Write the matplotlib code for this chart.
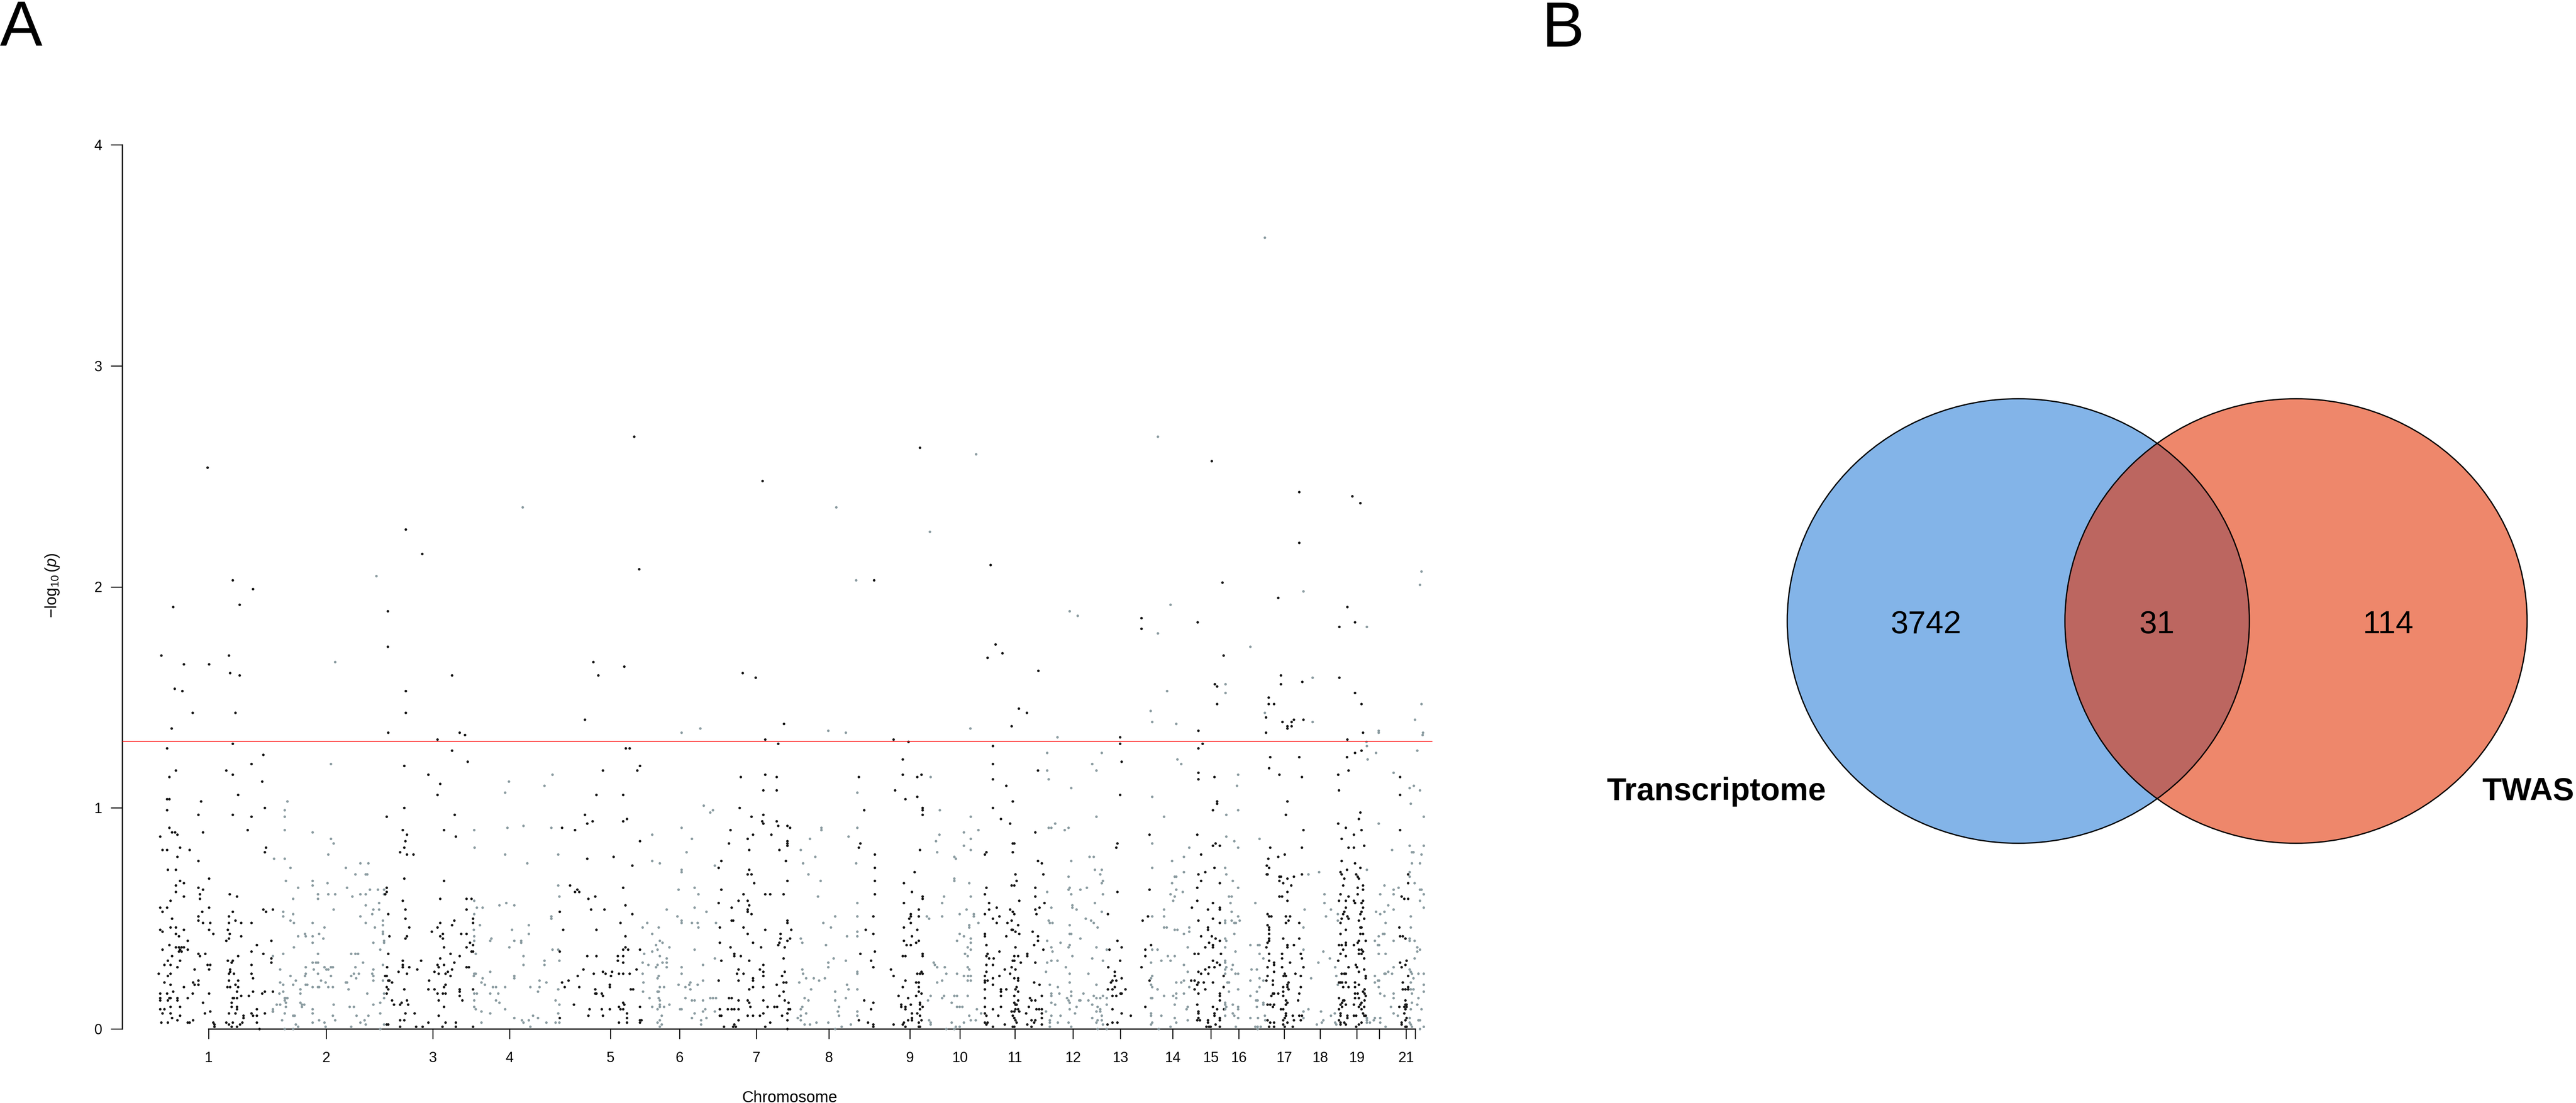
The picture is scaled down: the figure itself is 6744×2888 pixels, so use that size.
import numpy as np
import matplotlib
matplotlib.use('Agg')
import matplotlib.pyplot as plt
from matplotlib.patches import Ellipse

plt.rcParams['font.family'] = ['Liberation Sans', 'DejaVu Sans']
plt.rcParams['mathtext.fontset'] = 'custom'
plt.rcParams['mathtext.rm'] = 'Liberation Sans'
plt.rcParams['mathtext.it'] = 'Liberation Sans:italic'

# Manhattan data: (cumulative genome position, -log10 p), one list per chromosome
chr1 = [(135,2.54),(201,2.03),(254,1.99),(45,1.91),(219,1.92),(14,1.69),(73,1.65),(139,1.65),(191,1.69),(194,1.61),(219,1.60),(49,1.54),(69,1.53),(96,1.43),(208,1.43),(41,1.36),(201,1.29),
        (29,1.27),(281,1.24),(250,1.20),(184,1.17),(201,1.15),(52,1.17),(35,1.14),(278,1.12),(215,1.06),(29,1.04),(35,1.04),(118,1.03),(29,0.99),(111,0.97),(201,0.97),(250,0.96),(285,1.00),
        (35,0.91),(42,0.89),(50,0.89),(56,0.88),(123,0.89),(240,0.90),(11,0.87),(17,0.81),(29,0.81),(63,0.82),(88,0.81),(288,0.82),(285,0.80),(56,0.78),(111,0.76),(31,0.72),(52,0.72),
        (139,0.68),(63,0.67),(73,0.66),(52,0.65),(52,0.62),(111,0.64),(123,0.63),(115,0.61),(73,0.60),(115,0.59),(193,0.61),(212,0.60),(38,0.58),(11,0.55),(29,0.55),(17,0.53),(139,0.55),
        (281,0.54),(288,0.53),(306,0.54),(121,0.53),(111,0.51),(201,0.53),(191,0.51),(42,0.50),(111,0.49),(123,0.48),(142,0.48),(191,0.48),(208,0.49),(223,0.48),(250,0.48),(38,0.46),
        (52,0.46),(11,0.45),(17,0.44),(52,0.43),(60,0.42),(73,0.45),(139,0.45),(150,0.43),(188,0.45),(193,0.43),(223,0.42),(83,0.40),(184,0.40),(191,0.41),(302,0.40),(35,0.38),(52,0.37),
        (60,0.37),(63,0.36),(67,0.37),(73,0.37),(83,0.36),(60,0.35),(67,0.35),(17,0.36),(264,0.38),(111,0.34),(115,0.33),(129,0.34),(250,0.35),(281,0.34),(302,0.32),(31,0.31),(42,0.33),
        (63,0.31),(188,0.31),(201,0.31),(215,0.33),(22,0.29),(38,0.29),(56,0.28),(135,0.29),(142,0.29),(198,0.30),(250,0.29),(302,0.30),(101,0.27),(139,0.27),(194,0.27),(194,0.26),(7,0.25),
        (31,0.24),(38,0.25),(191,0.25),(204,0.25),(250,0.25),(254,0.23),(22,0.21),(38,0.20),(73,0.19),(97,0.21),(101,0.20),(111,0.22),(111,0.20),(191,0.22),(215,0.22),(187,0.19),(194,0.19),
        (208,0.20),(215,0.19),(11,0.16),(29,0.16),(45,0.17),(11,0.14),(11,0.13),(31,0.13),(35,0.14),(38,0.14),(56,0.14),(56,0.13),(83,0.14),(96,0.16),(123,0.12),(139,0.16),(201,0.14),
        (204,0.14),(212,0.14),(212,0.17),(223,0.15),(243,0.15),(254,0.17),(278,0.16),(285,0.17),(306,0.17),(11,0.09),(22,0.09),(38,0.10),(38,0.07),(17,0.07),(63,0.10),(198,0.12),(198,0.10),
        (212,0.10),(212,0.09),(42,0.05),(56,0.04),(63,0.06),(97,0.04),(128,0.07),(142,0.08),(191,0.07),(208,0.07),(229,0.06),(229,0.05),(250,0.07),(254,0.06),(264,0.09),(264,0.06),(285,0.07),
        (306,0.08),(14,0.03),(31,0.03),(83,0.03),(88,0.03),(150,0.03),(153,0.02),(153,0.01),(184,0.03),(191,0.02),(201,0.03),(198,0.01),(212,0.01),(220,0.02),(226,0.03),(264,0.03),(271,0.00)]
chr2 = [(469,1.66),(577,2.05),(458,1.20),(344,1.03),(337,0.99),(337,0.96),(337,0.90),(337,0.77),(337,0.07),(337,0.14),(337,0.13),(337,0.00),(410,0.89),(458,0.86),(465,0.84),(451,0.79),
        (309,0.77),(352,0.73),(535,0.75),(556,0.75),(497,0.73),(522,0.70),(549,0.70),(553,0.70),(340,0.67),(410,0.67),(410,0.65),(449,0.66),(372,0.64),(359,0.59),(424,0.61),(424,0.59),
        (451,0.61),(469,0.61),(500,0.64),(514,0.60),(535,0.61),(549,0.61),(560,0.63),(581,0.63),(597,0.63),(597,0.61),(549,0.56),(569,0.54),(566,0.52),(584,0.57),(584,0.54),(333,0.53),
        (333,0.51),(359,0.52),(465,0.54),(535,0.51),(352,0.49),(361,0.48),(410,0.48),(549,0.48),(573,0.46),(594,0.49),(594,0.47),(441,0.46),(372,0.42),(390,0.43),(392,0.42),(410,0.42),
        (410,0.39),(427,0.43),(438,0.41),(361,0.37),(594,0.44),(594,0.43),(597,0.40),(597,0.39),(569,0.39),(333,0.34),(306,0.33),(424,0.34),(511,0.34),(522,0.34),(529,0.34),(587,0.36),
        (410,0.30),(419,0.30),(424,0.30),(325,0.27),(392,0.28),(413,0.27),(441,0.28),(446,0.27),(451,0.27),(458,0.28),(463,0.28),(542,0.30),(522,0.28),(569,0.27),(594,0.29),(352,0.24),
        (390,0.24),(392,0.25),(424,0.25),(458,0.24),(511,0.24),(518,0.25),(531,0.25),(524,0.23),(566,0.25),(569,0.24),(325,0.21),(333,0.20),(359,0.20),(366,0.22),(392,0.20),(396,0.20),
        (410,0.19),(424,0.19),(427,0.19),(432,0.22),(444,0.21),(451,0.19),(463,0.19),(497,0.21),(500,0.21),(504,0.18),(569,0.22),(594,0.22),(323,0.16),(333,0.17),(378,0.18),(378,0.16),
        (340,0.14),(340,0.12),(344,0.14),(553,0.16),(597,0.16),(597,0.14),(316,0.11),(325,0.11),(340,0.10),(378,0.12),(382,0.11),(382,0.10),(388,0.11),(410,0.09),(410,0.07),(465,0.11),
        (507,0.10),(518,0.10),(569,0.11),(587,0.12),(306,0.09),(306,0.08),(359,0.06),(363,0.06),(463,0.06),(525,0.06),(556,0.06),(587,0.07),(330,0.04),(410,0.03),(427,0.04),(441,0.03),
        (469,0.04),(535,0.03),(546,0.04),(359,0.00),(366,0.02),(372,0.01),(444,0.01),(511,0.01),(549,0.02),(597,0.02),(587,0.00)]
chr3 = [(654,2.26),(697,2.15),(607,1.89),(607,1.73),(654,1.53),(654,1.43),(775,1.60),(809,1.33),(608,1.34),(737,1.31),(795,1.34),(775,1.26),(816,1.21),(650,1.19),(713,1.15),(744,1.11),
        (737,1.06),(650,1.00),(604,0.96),(782,0.97),(646,0.90),(657,0.88),(653,0.85),(650,0.82),(639,0.80),(657,0.79),(674,0.79),(754,0.90),(785,0.87),(650,0.68),(754,0.67),(604,0.64),
        (604,0.62),(600,0.61),(646,0.58),(744,0.59),(653,0.54),(608,0.52),(653,0.50),(781,0.49),(744,0.48),(737,0.46),(775,0.47),(663,0.46),(722,0.44),(744,0.42),(751,0.43),(751,0.41),
        (611,0.42),(653,0.41),(657,0.42),(799,0.43),(754,0.37),(771,0.34),(608,0.34),(694,0.31),(646,0.31),(646,0.29),(646,0.28),(663,0.28),(744,0.32),(737,0.29),(740,0.28),(754,0.29),
        (781,0.30),(605,0.28),(684,0.27),(635,0.26),(657,0.25),(729,0.26),(740,0.25),(758,0.25),(764,0.26),(771,0.24),(775,0.27),(600,0.24),(604,0.24),(608,0.22),(611,0.22),(618,0.21),
        (715,0.22),(754,0.19),(758,0.20),(604,0.19),(604,0.16),(608,0.18),(650,0.18),(713,0.18),(729,0.18),(737,0.16),(751,0.16),(758,0.16),(795,0.17),(795,0.15),(618,0.13),(623,0.11),
        (639,0.11),(643,0.12),(657,0.13),(660,0.11),(740,0.13),(802,0.13),(754,0.10),(653,0.07),(677,0.07),(740,0.06),(639,0.04),(650,0.04),(713,0.03),(604,0.02),(608,0.02),(639,0.01),
        (681,0.01),(698,0.01),(750,0.01),(758,0.03),(785,0.03),(785,0.01),(813,0.59),(813,0.54),(813,0.43),(813,0.37),(813,0.28),(826,0.59),(826,0.35),(830,0.50),(830,0.48),(830,0.38),
        (830,0.35),(830,0.18),(830,0.01),(822,0.39),(819,0.28),(795,0.33),(795,0.18)]
chr4 = [(960,2.36),(924,1.12),(914,1.07),(1017,1.10),(1038,1.15),(833,0.90),(920,0.91),(962,0.92),(1035,0.91),(834,0.82),(914,0.79),(1053,0.79),(972,0.75),(1053,0.65),(1056,0.60),
        (833,0.58),(840,0.55),(855,0.55),(899,0.56),(917,0.57),(938,0.56),(833,0.52),(1035,0.51),(1035,0.50),(848,0.47),(932,0.45),(976,0.47),(976,0.43),(832,0.45),(833,0.42),(833,0.40),
        (878,0.41),(875,0.40),(938,0.40),(956,0.40),(956,0.39),(925,0.37),(1038,0.36),(1053,0.36),(837,0.34),(962,0.33),(962,0.29),(1017,0.31),(1017,0.29),(1056,0.31),(875,0.26),(833,0.25),
        (837,0.25),(832,0.24),(938,0.24),(938,0.23),(855,0.23),(852,0.21),(861,0.20),(882,0.19),(890,0.19),(914,0.19),(980,0.19),(1004,0.19),(1004,0.22),(1022,0.21),(1000,0.17),(1053,0.18),
        (833,0.16),(840,0.16),(875,0.16),(896,0.16),(833,0.13),(890,0.13),(899,0.12),(1046,0.13),(1056,0.11),(833,0.10),(837,0.09),(852,0.08),(875,0.07),(914,0.09),(1053,0.07),(938,0.05),
        (958,0.04),(962,0.03),(976,0.04),(987,0.06),(1000,0.05),(852,0.03),(980,0.01),(1022,0.03),(1046,0.03),(1056,0.03)]
chr5 = [(1252,2.68),(1265,2.08),(1145,1.66),(1158,1.60),(1226,1.64),(1123,1.40),(1230,1.27),(1240,1.27),(1170,1.17),(1260,1.17),(1267,1.19),(1153,1.06),(1223,1.06),(1123,0.97),(1129,0.93),
        (1143,0.94),(1223,0.94),(1233,0.95),(1063,0.91),(1097,0.90),(1267,0.85),(1129,0.77),(1198,0.78),(1247,0.74),(1223,0.64),(1084,0.65),(1097,0.62),(1103,0.63),(1108,0.62),(1132,0.59),
        (1150,0.60),(1139,0.54),(1174,0.54),(1229,0.56),(1247,0.52),(1057,0.53),(1216,0.48),(1066,0.45),(1153,0.45),(1229,0.42),(1223,0.36),(1229,0.37),(1236,0.36),(1267,0.36),(1057,0.35),
        (1129,0.33),(1153,0.33),(1209,0.33),(1209,0.31),(1223,0.33),(1223,0.30),(1119,0.27),(1146,0.25),(1170,0.26),(1177,0.25),(1194,0.26),(1191,0.24),(1212,0.25),(1223,0.25),(1240,0.25),
        (1258,0.27),(1080,0.22),(1104,0.24),(1063,0.21),(1070,0.19),(1108,0.19),(1188,0.20),(1188,0.19),(1150,0.18),(1150,0.16),(1153,0.16),(1167,0.16),(1170,0.15),(1243,0.18),(1249,0.18),
        (1094,0.11),(1223,0.12),(1226,0.11),(1135,0.09),(1167,0.09),(1188,0.09),(1212,0.10),(1216,0.09),(1223,0.09),(1233,0.07),(1267,0.10),(1057,0.05),(1132,0.06),(1170,0.06),(1233,0.05),
        (1267,0.04),(1267,0.03),(1271,0.04),(1212,0.03),(1233,0.03)]
chr6 = [(1376,1.34),(1425,1.36),(1434,1.01),(1451,0.98),(1458,0.99),(1299,0.88),(1376,0.91),(1403,0.86),(1389,0.80),(1299,0.76),(1319,0.75),(1376,0.72),(1376,0.71),(1463,0.74),(1368,0.63),
        (1410,0.64),(1420,0.61),(1410,0.55),(1337,0.54),(1441,0.53),(1365,0.51),(1376,0.49),(1376,0.48),(1286,0.48),(1274,0.46),(1403,0.48),(1418,0.48),(1316,0.46),(1420,0.46),(1466,0.48),
        (1299,0.43),(1319,0.40),(1326,0.39),(1309,0.38),(1344,0.37),(1313,0.36),(1299,0.35),(1410,0.36),(1278,0.34),(1319,0.33),(1337,0.32),(1463,0.32),(1274,0.30),(1289,0.29),(1309,0.28),
        (1313,0.29),(1326,0.30),(1337,0.30),(1337,0.28),(1376,0.28),(1432,0.29),(1376,0.25),(1274,0.25),(1316,0.24),(1313,0.23),(1432,0.22),(1399,0.21),(1418,0.20),(1396,0.20),(1368,0.20),
        (1386,0.19),(1399,0.18),(1276,0.21),(1319,0.19),(1330,0.19),(1275,0.17),(1313,0.17),(1316,0.17),(1292,0.14),(1316,0.14),(1319,0.13),(1386,0.14),(1403,0.13),(1410,0.13),(1432,0.13),
        (1451,0.14),(1458,0.14),(1466,0.14),(1344,0.11),(1330,0.10),(1299,0.10),(1313,0.09),(1319,0.10),(1319,0.11),(1372,0.09),(1376,0.09),(1410,0.07),(1432,0.08),(1438,0.09),(1463,0.08),
        (1324,0.06),(1403,0.05),(1427,0.04),(1441,0.05),(1319,0.04),(1319,0.01),(1313,0.03),(1324,0.02),(1427,0.02)]
chr7 = [(1588,2.48),(1536,1.61),(1570,1.59),(1644,1.38),(1595,1.31),(1629,1.29),(1531,1.14),(1595,1.15),(1625,1.14),(1625,1.08),(1590,1.08),(1528,1.00),(1559,0.96),(1590,0.97),(1587,0.94),
        (1590,0.93),(1625,0.94),(1629,0.92),(1653,0.92),(1660,0.91),(1504,0.90),(1563,0.88),(1549,0.86),(1611,0.88),(1500,0.84),(1653,0.85),(1653,0.84),(1653,0.83),(1553,0.81),(1632,0.81),
        (1480,0.76),(1473,0.73),(1649,0.76),(1553,0.72),(1549,0.70),(1559,0.70),(1653,0.67),(1566,0.66),(1480,0.63),(1538,0.61),(1595,0.61),(1608,0.61),(1643,0.61),(1473,0.57),(1525,0.58),
        (1549,0.58),(1553,0.56),(1507,0.55),(1549,0.54),(1549,0.53),(1559,0.52),(1507,0.49),(1511,0.49),(1653,0.49),(1653,0.48),(1476,0.46),(1538,0.46),(1595,0.45),(1663,0.45),(1549,0.43),
        (1635,0.43),(1635,0.41),(1653,0.40),(1660,0.41),(1476,0.39),(1563,0.39),(1629,0.38),(1632,0.39),(1646,0.37),(1504,0.37),(1584,0.37),(1514,0.34),(1514,0.33),(1531,0.33),(1480,0.31),
        (1553,0.31),(1643,0.32),(1590,0.29),(1525,0.27),(1521,0.25),(1538,0.25),(1581,0.27),(1590,0.26),(1590,0.24),(1646,0.26),(1639,0.24),(1643,0.21),(1650,0.21),(1473,0.22),(1525,0.22),
        (1563,0.23),(1563,0.22),(1563,0.19),(1590,0.19),(1625,0.20),(1553,0.18),(1643,0.17),(1632,0.15),(1500,0.14),(1507,0.14),(1525,0.13),(1549,0.13),(1553,0.12),(1590,0.13),(1646,0.13),
        (1656,0.12),(1476,0.09),(1497,0.09),(1507,0.09),(1514,0.09),(1525,0.09),(1556,0.10),(1601,0.10),(1619,0.10),(1626,0.10),(1656,0.09),(1660,0.09),(1476,0.06),(1480,0.06),(1525,0.04),
        (1549,0.06),(1563,0.06),(1581,0.06),(1590,0.07),(1639,0.06),(1653,0.07),(1487,0.01),(1511,0.01),(1514,0.02),(1518,0.01),(1595,0.01),(1608,0.03),(1653,0.04),(1653,0.00)]
chr8 = [(1781,2.36),(1833,2.03),(1760,1.35),(1806,1.34),(1742,0.91),(1742,0.90),(1712,0.86),(1688,0.81),(1726,0.78),(1694,0.75),(1708,0.70),(1740,0.67),(1733,0.60),(1813,0.87),(1836,0.91),
        (1836,1.07),(1836,0.57),(1836,0.51),(1836,0.44),(1836,0.42),(1836,0.26),(1836,0.25),(1836,0.18),(1836,0.08),(1836,0.06),(1833,0.75),(1778,0.51),(1747,0.48),(1767,0.46),(1688,0.41),
        (1692,0.39),(1754,0.38),(1809,0.42),(1774,0.32),(1760,0.30),(1760,0.28),(1806,0.31),(1692,0.27),(1694,0.25),(1702,0.23),(1722,0.23),(1736,0.22),(1751,0.23),(1684,0.21),(1715,0.18),
        (1778,0.17),(1813,0.18),(1809,0.20),(1698,0.14),(1708,0.13),(1778,0.13),(1806,0.14),(1692,0.10),(1688,0.09),(1788,0.10),(1785,0.08),(1702,0.07),(1688,0.06),(1688,0.04),(1680,0.05),
        (1788,0.06),(1698,0.02),(1712,0.02),(1729,0.03),(1760,0.03),(1778,0.00),(1795,0.01),(1819,0.02)]
chr9 = [(2000,2.63),(1880,2.03),(1970,1.30),(1840,1.14),(1854,0.99),(1840,0.82),(1844,0.84),(1882,0.79),(1882,0.73),(1882,0.67),(1882,0.61),(1882,0.35),(1878,0.51),(1878,0.43),(1878,0.28),
        (1878,0.12),(1878,0.02),(1878,0.01),(1858,0.45),(1844,0.34),(1872,0.31),(1872,0.09),(1840,0.04),(1854,0.13),(1864,0.03),(1931,1.31),(1935,1.08),(1955,1.22),(1955,1.15),(1993,1.14),
        (2004,1.15),(1962,1.04),(1993,1.05),(2007,1.00),(2007,0.99),(2007,0.97),(2000,0.81),(1986,0.71),(1958,0.66),(1979,0.62),(2007,0.60),(2007,0.59),(1958,0.57),(1997,0.54),(1976,0.52),
        (1976,0.51),(1972,0.50),(1997,0.51),(1976,0.48),(1958,0.46),(1993,0.45),(1979,0.42),(1997,0.40),(1990,0.39),(1958,0.40),(1965,0.38),(1976,0.38),(1955,0.33),(1962,0.33),(2007,0.34),
        (2007,0.33),(1924,0.27),(1931,0.24),(1993,0.25),(2000,0.25),(2007,0.25),(2004,0.26),(1962,0.22),(1990,0.21),(1997,0.21),(1997,0.19),(1955,0.19),(1997,0.17),(2004,0.16),(1990,0.15),
        (1944,0.15),(1969,0.14),(1976,0.11),(2000,0.12),(2000,0.11),(2000,0.09),(2007,0.10),(1951,0.11),(1951,0.10),(1962,0.10),(1962,0.09),(1979,0.07),(1993,0.07),(2000,0.06),(1969,0.04),
        (1979,0.04),(1979,0.05),(1997,0.03),(2004,0.04),(1931,0.02),(1955,0.02),(1958,0.03),(1962,0.01),(1997,0.01),(2000,0.01)]
chr10 = [(2026,2.25),(2147,2.60),(2132,1.36),(2028,1.14),(2052,0.99),(2051,0.88),(2042,0.85),(2045,0.80),(2090,0.78),(2094,0.77),(2133,0.96),(2115,0.89),(2133,0.86),(2153,0.90),(2115,0.83),
         (2133,0.81),(2090,0.68),(2090,0.67),(2129,0.66),(2063,0.60),(2133,0.60),(2058,0.57),(2122,0.54),(2104,0.52),(2141,0.52),(2141,0.51),(2058,0.51),(2018,0.51),(2024,0.50),(2153,0.48),
         (2129,0.47),(2129,0.46),(2104,0.43),(2115,0.42),(2133,0.41),(2097,0.40),(2133,0.39),(2125,0.37),(2133,0.36),(2118,0.34),(2125,0.33),(2036,0.30),(2039,0.29),(2045,0.28),(2065,0.28),
         (2125,0.28),(2129,0.27),(2069,0.25),(2097,0.25),(2115,0.24),(2126,0.24),(2133,0.24),(2133,0.22),(2125,0.22),(2045,0.21),(2058,0.22),(2028,0.15),(2021,0.13),(2058,0.14),(2063,0.15),
         (2090,0.15),(2097,0.15),(2125,0.15),(2083,0.12),(2097,0.10),(2104,0.10),(2111,0.10),(2149,0.09),(2129,0.06),(2133,0.04),(2146,0.04),(2160,0.07),(2024,0.04),(2028,0.03),(2028,0.02),
         (2083,0.03),(2094,0.01),(2104,0.01),(2115,0.03),(2069,0.00),(2090,0.00)]
chr11 = [(2185,2.10),(2198,1.74),(2177,1.68),(2216,1.70),(2259,1.45),(2280,1.43),(2310,1.62),(2240,1.37),(2191,1.28),(2191,1.20),(2191,1.13),(2191,1.00),(2226,1.10),(2243,1.03),(2212,0.95),
         (2236,0.93),(2170,0.79),(2170,0.61),(2174,0.80),(2174,0.64),(2243,0.84),(2243,0.80),(2247,0.84),(2250,0.70),(2253,0.67),(2240,0.65),(2247,0.65),(2260,0.58),(2181,0.57),(2181,0.54),
         (2201,0.55),(2170,0.52),(2236,0.54),(2243,0.53),(2247,0.52),(2191,0.50),(2208,0.51),(2201,0.48),(2229,0.48),(2240,0.49),(2257,0.47),(2170,0.43),(2170,0.42),(2240,0.45),(2243,0.45),
         (2250,0.44),(2260,0.43),(2226,0.42),(2174,0.38),(2250,0.37),(2208,0.35),(2177,0.34),(2174,0.33),(2181,0.32),(2193,0.32),(2247,0.33),(2247,0.31),(2257,0.33),(2243,0.31),(2264,0.30),
         (2174,0.29),(2191,0.29),(2240,0.28),(2250,0.27),(2222,0.27),(2236,0.25),(2174,0.26),(2170,0.24),(2177,0.22),(2191,0.23),(2208,0.24),(2247,0.23),(2257,0.23),(2257,0.22),(2170,0.22),
         (2170,0.21),(2170,0.18),(2191,0.20),(2212,0.18),(2212,0.17),(2226,0.18),(2253,0.19),(2250,0.18),(2257,0.17),(2170,0.14),(2212,0.15),(2247,0.15),(2257,0.13),(2247,0.12),(2250,0.11),
         (2253,0.11),(2170,0.10),(2191,0.09),(2212,0.10),(2240,0.08),(2247,0.08),(2250,0.09),(2257,0.09),(2260,0.08),(2170,0.07),(2174,0.06),(2205,0.06),(2243,0.06),(2247,0.05),(2250,0.04),
         (2170,0.03),(2177,0.03),(2174,0.02),(2222,0.02),(2243,0.01),(2247,0.01),(2253,0.03),(2191,0.01),(2281,0.34),(2281,0.33),(2281,0.02),(2295,0.44),(2309,0.42),(2309,0.40),(2309,1.17),
         (2309,0.76),(2299,0.38),(2299,0.21),(2299,0.03),(2323,0.36),(2323,0.70),(2302,0.30),(2302,0.13),(2302,0.04),(2302,0.89),(2302,0.64),(2302,0.60),(2302,0.54),(2313,0.20),(2313,0.55),
         (2319,0.15),(2319,0.09),(2319,0.07),(2319,0.05),(2319,0.02),(2319,0.75),(2288,0.14),(2292,0.13),(2292,0.04),(2292,0.01),(2285,0.10),(2278,0.07),(2305,0.09),(2305,0.52),(2312,0.09),
         (2326,0.57)]
chr12 = [(2392,1.89),(2413,1.87),(2360,1.32),(2333,1.25),(2333,1.17),(2333,0.62),(2333,0.40),(2333,0.30),(2337,1.13),(2337,0.91),(2337,0.49),(2396,1.09),(2396,0.76),(2396,0.61),(2396,0.43),
         (2396,0.17),(2396,0.15),(2396,0.01),(2344,0.91),(2344,0.55),(2344,0.37),(2344,0.31),(2344,0.16),(2344,0.15),(2344,0.12),(2344,0.06),(2354,0.93),(2354,0.11),(2379,0.90),(2389,0.91),
         (2389,0.69),(2389,0.63),(2389,0.37),(2389,0.13),(2389,0.03),(2476,1.25),(2476,0.72),(2476,0.66),(2476,0.53),(2476,0.06),(2476,0.04),(2451,1.20),(2451,0.32),(2451,0.11),(2451,0.05),
         (2462,1.17),(2462,0.96),(2462,0.37),(2462,0.20),(2462,0.14),(2462,0.08),(2462,0.03),(2444,0.78),(2455,0.78),(2455,0.48),(2455,0.15),(2458,0.72),(2458,0.57),(2472,0.70),(2472,0.14),
         (2472,0.09),(2472,0.08),(2479,0.67),(2479,0.61),(2479,0.31),(2479,0.15),(2479,0.02),(2392,0.64),(2392,0.47),(2392,0.43),(2392,0.38),(2392,0.25),(2392,0.21),(2392,0.12),(2392,0.09),
         (2420,0.63),(2420,0.41),(2420,0.13),(2437,0.64),(2399,0.56),(2399,0.55),(2399,0.33),(2410,0.54),(2410,0.10),(2340,0.48),(2340,0.20),(2340,0.04),(2340,0.03),(2340,0.01),(2347,0.48),
         (2347,0.35),(2434,0.50),(2448,0.49),(2465,0.46),(2465,0.10),(2465,0.04),(2465,0.00),(2368,0.39),(2368,0.06),(2489,0.36),(2489,0.14),(2489,0.11),(2489,0.00),(2360,0.31),(2382,0.28),
         (2330,0.26),(2330,0.08),(2441,0.25),(2441,0.13),(2361,0.19),(2361,0.03),(2365,0.16),(2385,0.14),(2428,0.16),(2417,0.13),(2406,0.07)]
chr13 = [(2580,1.86),(2580,1.81),(2524,1.32),(2524,1.29),(2524,1.06),(2524,0.31),(2528,1.21),(2528,0.37),(2528,0.23),(2528,0.16),(2528,0.07),(2517,0.84),(2517,0.62),(2517,0.40),(2517,0.03),
         (2514,0.82),(2514,0.22),(2514,0.15),(2492,0.52),(2492,0.18),(2510,0.26),(2510,0.24),(2510,0.19),(2504,0.22),(2504,0.18),(2504,0.15),(2504,0.09),(2504,0.03),(2500,0.21),(2525,0.16),
         (2538,0.18),(2552,0.06),(2583,0.49),(2597,0.51),(2590,0.36),(2590,0.33),(2590,0.10),(2580,0.28),(2601,0.22),(2601,0.88),(2601,0.63),(2605,0.38),(2491,0.02),(2496,0.36),(2493,0.28)]
chr14 = [(2623,2.68),(2623,1.79),(2656,1.92),(2647,1.53),(2604,1.44),(2608,1.39),(2671,1.38),(2608,1.05),(2608,0.84),(2608,0.73),(2608,0.51),(2608,0.36),(2608,0.24),(2608,0.19),(2608,0.14),
         (2608,0.03),(2639,0.96),(2639,0.54),(2639,0.51),(2639,0.46),(2639,0.15),(2674,1.22),(2674,0.45),(2684,1.20),(2684,0.21),(2691,0.78),(2691,0.71),(2691,0.43),(2691,0.29),(2691,0.22),
         (2691,0.16),(2660,0.76),(2660,0.66),(2667,0.69),(2667,0.60),(2667,0.45),(2667,0.33),(2667,0.11),(2667,0.05),(2671,0.69),(2671,0.63),(2671,0.21),(2671,0.16),(2671,0.14),(2671,0.03),
         (2705,0.82),(2705,0.46),(2705,0.44),(2705,0.19),(2688,0.62),(2656,0.61),(2656,0.31),(2656,0.01),(2663,0.58),(2663,0.15),(2646,0.46),(2622,0.36),(2622,0.18),(2649,0.33),(2632,0.31),
         (2632,0.06),(2605,0.30),(2605,0.23),(2605,0.20),(2605,0.14),(2605,0.06),(2605,0.07),(2605,0.02),(2701,0.37),(2701,0.26),(2701,0.10),(2701,0.04),(2698,0.09),(2625,0.00)]
chr15 = [(2764,2.57),(2792,2.02),(2727,1.84),(2795,1.69),(2772,1.56),(2778,1.55),(2778,1.47),(2729,1.35),(2729,1.27),(2729,1.16),(2729,1.13),(2729,0.70),(2729,0.49),(2729,0.34),(2729,0.26),
         (2729,0.21),(2729,0.16),(2729,0.08),(2729,0.07),(2729,0.05),(2740,1.29),(2771,1.14),(2771,0.73),(2771,0.28),(2771,0.06),(2771,0.07),(2778,1.03),(2778,1.02),(2778,0.30),(2778,0.09),
         (2767,0.99),(2767,0.83),(2767,0.57),(2767,0.50),(2767,0.38),(2767,0.37),(2767,0.31),(2767,0.21),(2767,0.10),(2726,0.88),(2726,0.64),(2726,0.58),(2726,0.20),(2726,0.11),(2726,0.04),
         (2774,0.84),(2774,0.41),(2774,0.02),(2785,0.83),(2785,0.66),(2785,0.55),(2785,0.54),(2785,0.48),(2785,0.40),(2785,0.29),(2785,0.16),(2785,0.15),(2785,0.13),(2785,0.05),(2785,0.04),
         (2785,0.01),(2736,0.79),(2736,0.67),(2736,0.42),(2736,0.25),(2747,0.71),(2747,0.37),(2747,0.27),(2747,0.18),(2712,0.55),(2754,0.54),(2754,0.46),(2754,0.45),(2754,0.04),(2754,0.03),
         (2764,0.42),(2757,0.39),(2757,0.28),(2757,0.01),(2788,0.34),(2719,0.34),(2719,0.22),(2719,0.18),(2755,0.25),(2795,0.24),(2795,0.19),(2710,0.22),(2743,0.21),(2796,0.09),(2733,0.04),
         (2750,0.01),(2761,0.01)]
chr16 = [(2903,3.58),(2865,1.73),(2800,1.56),(2800,1.52),(2903,1.43),(2833,1.15),(2833,0.99),(2833,0.82),(2833,0.64),(2833,0.51),(2833,0.25),(2833,0.18),(2833,0.10),(2833,0.09),(2833,0.05),
         (2830,1.10),(2802,0.97),(2802,0.87),(2802,0.70),(2802,0.40),(2802,0.28),(2802,0.10),(2823,0.85),(2823,0.48),(2823,0.43),(2823,0.06),(2889,0.86),(2889,0.38),(2889,0.34),(2889,0.23),
         (2889,0.19),(2799,0.73),(2799,0.49),(2799,0.48),(2799,0.41),(2799,0.37),(2799,0.30),(2799,0.31),(2799,0.27),(2799,0.25),(2799,0.12),(2799,0.11),(2799,0.09),(2799,0.06),(2819,0.67),
         (2819,0.29),(2819,0.11),(2819,0.07),(2809,0.60),(2809,0.21),(2809,0.17),(2816,0.60),(2816,0.53),(2816,0.49),(2816,0.27),(2813,0.57),(2878,0.57),(2878,0.01),(2837,0.49),(2827,0.48),
         (2827,0.01),(2826,0.35),(2826,0.25),(2865,0.38),(2865,0.22),(2865,0.15),(2865,0.05),(2885,0.38),(2885,0.05),(2899,0.32),(2899,0.22),(2899,0.12),(2899,0.11),(2868,0.27),(2882,0.27),
         (2882,0.17),(2882,0.10),(2805,0.21),(2880,0.13),(2884,0.13),(2884,0.01),(2884,0.00),(2892,0.01),(2903,0.06),(2904,0.04)]
chr17 = [(2993,2.43),(2993,2.20),(2938,1.95),(2945,1.60),(2945,1.56),(2913,1.50),(2913,1.47),(2927,1.47),(2906,1.41),(2906,1.34),(2949,1.39),(2973,1.39),(2973,1.37),(2979,1.40),(2962,1.36),
         (3001,1.57),(3004,1.40),(2907,0.37),(2907,0.22),(2962,1.37),(2962,1.03),(2962,0.62),(2962,0.58),(2962,0.68),(2962,0.38),(2962,0.37),(2962,0.20),(2962,0.19),(2962,0.12),(2962,0.03),
         (2972,0.65),(2917,1.23),(2917,0.82),(2917,0.11),(2917,0.03),(2993,1.23),(2993,0.48),(2993,0.41),(2993,0.16),(2993,0.06),(2914,1.18),(2914,0.73),(2914,0.51),(2914,0.46),(2914,0.45),
         (2914,0.43),(2914,0.41),(2914,0.40),(2914,0.34),(2914,0.31),(2914,0.01),(2941,1.15),(2941,0.69),(2941,0.67),(2941,0.60),(3000,1.14),(3000,0.82),(3000,0.70),(3000,0.32),(3000,0.06),
         (2958,0.97),(2958,0.51),(2958,0.48),(2958,0.24),(2958,0.13),(2958,0.11),(2958,0.07),(2958,0.06),(3004,0.90),(3004,0.28),(2912,0.77),(2908,0.74),(2908,0.70),(2938,0.78),(2938,0.16),
         (2955,0.79),(2955,0.25),(2955,0.05),(2955,0.01),(2910,0.70),(2910,0.52),(2910,0.47),(2910,0.39),(2910,0.28),(2910,0.24),(2910,0.11),(2910,0.04),(2945,0.69),(2945,0.09),(2979,0.69),
         (2979,0.38),(2979,0.04),(2951,0.66),(2951,0.41),(2951,0.19),(2951,0.17),(2951,0.15),(2951,0.09),(2951,0.04),(2951,0.02),(2948,0.60),(2948,0.34),(2948,0.32),(2948,0.28),(2920,0.51),
         (2920,0.15),(2969,0.51),(2969,0.30),(2965,0.49),(2965,0.21),(2965,0.18),(2997,0.34),(2997,0.24),(2997,0.19),(2997,0.04),(2927,0.30),(2927,0.29),(2927,0.26),(2927,0.16),(2927,0.11),
         (2927,0.03),(2927,0.01),(2952,0.24),(2983,0.25),(2924,0.22),(2924,0.20),(2924,0.16),(2924,0.10),(2990,0.13),(2976,0.06),(2976,0.01)]
chr18 = [(3004,1.98),(3028,1.59),(3028,1.39),(3017,0.70),(3017,0.09),(3045,0.71),(3004,0.46),(3004,0.36),(3004,0.08),(3004,0.05),(3007,0.54),(3059,0.61),(3059,0.57),(3076,0.54),(3076,0.06),
         (3063,0.51),(3056,0.35),(3056,0.04),(3073,0.32),(3043,0.30),(3087,0.28),(3087,0.03),(3024,0.23),(3050,0.08),(3039,0.02),(3086,0.07),(3052,0.03),(3094,0.52),(3094,0.49),(3094,0.20),
         (3090,0.24),(3090,0.02)]
chr19 = [(3132,2.41),(3153,2.38),(3119,1.91),(3119,1.31),(3098,1.82),(3098,1.59),(3139,1.84),(3139,1.52),(3156,1.47),(3160,1.34),(3139,1.25),(3156,1.26),(3118,1.23),(3122,1.17),(3095,1.15),
         (3095,0.93),(3095,0.31),(3097,1.08),(3097,0.58),(3097,0.38),(3097,0.21),(3097,0.14),(3097,0.09),(3097,0.04),(3153,0.98),(3153,0.73),(3153,0.52),(3153,0.46),(3153,0.43),(3153,0.11),
         (3149,0.95),(3149,0.68),(3149,0.49),(3149,0.40),(3149,0.36),(3149,0.34),(3149,0.26),(3149,0.20),(3149,0.14),(3149,0.10),(3149,0.02),(3115,0.91),(3115,0.58),(3115,0.55),(3115,0.45),
         (3115,0.39),(3115,0.38),(3115,0.33),(3115,0.25),(3115,0.21),(3115,0.11),(3115,0.02),(3156,0.90),(3156,0.57),(3156,0.53),(3156,0.46),(3156,0.36),(3156,0.34),(3156,0.12),(3156,0.09),
         (3156,0.03),(3136,0.88),(3136,0.82),(3136,0.58),(3136,0.38),(3136,0.11),(3136,0.06),(3104,0.86),(3104,0.76),(3104,0.70),(3104,0.50),(3104,0.38),(3104,0.25),(3122,0.82),(3122,0.60),
         (3122,0.50),(3122,0.28),(3122,0.19),(3163,0.83),(3163,0.50),(3163,0.32),(3163,0.27),(3163,0.10),(3163,0.06),(3139,0.75),(3139,0.57),(3139,0.21),(3139,0.19),(3139,0.16),(3139,0.14),
         (3118,0.72),(3101,0.71),(3101,0.61),(3101,0.48),(3101,0.43),(3101,0.34),(3101,0.21),(3101,0.11),(3101,0.07),(3101,0.06),(3101,0.03),(3101,0.02),(3142,0.70),(3142,0.06),(3142,0.01),
         (3146,0.69),(3146,0.64),(3146,0.61),(3146,0.39),(3146,0.16),(3111,0.68),(3111,0.53),(3111,0.25),(3111,0.13),(3111,0.03),(3108,0.65),(3108,0.52),(3108,0.36),(3108,0.19),(3108,0.13),
         (3160,0.65),(3160,0.63),(3160,0.58),(3160,0.55),(3160,0.43),(3160,0.35),(3160,0.17),(3160,0.07),(3119,0.51),(3119,0.06),(3119,0.05),(3167,0.40),(3167,0.24),(3167,0.23),(3167,0.15),
         (3167,0.06),(3105,0.21),(3105,0.12),(3105,0.10),(3141,0.29),(3144,0.28),(3164,0.18),(3164,0.16),(3164,0.13)]
chr20 = [(3170,1.82),(3201,1.34),(3201,1.35),(3169,1.30),(3170,1.28),(3170,0.04),(3172,1.22),(3194,1.25),(3194,0.53),(3240,1.16),(3240,0.61),(3240,0.63),(3240,0.54),(3240,0.40),(3240,0.28),
         (3240,0.16),(3240,0.14),(3240,0.07),(3201,0.93),(3201,0.42),(3201,0.34),(3201,0.19),(3236,0.81),(3236,0.25),(3170,0.72),(3170,0.05),(3216,0.65),(3216,0.53),(3216,0.43),(3216,0.25),
         (3216,0.15),(3205,0.61),(3205,0.52),(3205,0.16),(3205,0.05),(3205,0.03),(3253,0.64),(3226,0.56),(3226,0.26),(3219,0.48),(3219,0.34),(3219,0.25),(3219,0.01),(3212,0.43),(3191,0.40),
         (3191,0.24),(3191,0.21),(3191,0.05),(3199,0.38),(3199,0.22),(3202,0.38),(3202,0.22),(3233,0.10),(3188,0.04),(3170,0.03),(3178,0.03),(3251,0.06)]
chr21 = [(3257,1.14),(3257,1.06),(3257,0.90),(3257,0.42),(3257,0.30),(3278,0.70),(3278,0.66),(3278,0.59),(3278,0.24),(3278,0.19),(3278,0.18),(3261,0.60),(3261,0.28),(3261,0.03),(3261,0.02),
         (3268,0.59),(3268,0.10),(3268,0.07),(3255,0.46),(3255,0.10),(3264,0.42),(3264,0.21),(3264,0.18),(3271,0.41),(3271,0.29),(3271,0.18),(3271,0.13),(3271,0.11),(3271,0.09),(3271,0.04),
         (3271,0.01),(3274,0.31),(3274,0.11),(3274,0.10),(3274,0.05),(3274,0.01)]
chr22 = [(3313,2.07),(3313,1.47),(3309,2.01),(3296,1.40),(3317,1.34),(3316,1.33),(3302,1.26),(3302,0.37),(3302,0.35),(3302,0.11),(3293,1.10),(3282,1.09),(3282,0.83),(3282,0.71),(3282,0.69),
         (3282,0.41),(3282,0.40),(3282,0.27),(3282,0.05),(3282,0.03),(3309,1.08),(3309,0.75),(3309,0.63),(3309,0.58),(3309,0.36),(3309,0.04),(3309,0.00),(3285,1.02),(3285,0.51),(3285,0.46),
         (3285,0.26),(3285,0.21),(3285,0.18),(3285,0.09),(3285,0.02),(3319,0.96),(3319,0.83),(3319,0.61),(3319,0.55),(3319,0.25),(3319,0.20),(3319,0.17),(3319,0.01),(3288,0.80),(3288,0.75),
         (3288,0.25),(3288,0.16),(3288,0.12),(3288,0.01),(3292,0.80),(3292,0.23),(3292,0.18),(3313,0.79),(3313,0.63),(3313,0.09),(3295,0.66),(3295,0.40),(3295,0.32),(3305,0.25),(3305,0.14),
         (3305,0.04)]

chromosomes = [chr1, chr2, chr3, chr4, chr5, chr6, chr7, chr8, chr9, chr10, chr11,
               chr12, chr13, chr14, chr15, chr16, chr17, chr18, chr19, chr20, chr21, chr22]
chr_names = [str(i) for i in range(1, 23)]
# chromosome tick (median position)
tick_pos = [138, 446, 725, 926, 1190, 1371, 1572, 1762, 1974, 2105, 2249, 2401,
            2525, 2662, 2762, 2835, 2954, 3048, 3144, 3203, 3273, 3297]
p_cut = 0.05

venn_names = ['Transcriptome', 'TWAS']
venn_counts = [3742, 31, 114]   # left only, both, right only

W, H = 6744, 2888
fig = plt.figure(figsize=(W / 300, H / 300), dpi=300)

# ---- panel A : Manhattan plot
ax = fig.add_axes([320 / W, 1 - 2694 / H, (3750 - 320) / W, (2694 - 379) / H])
cols = ['#151515', '#8a9ba0']
for i, pts in enumerate(chromosomes):
    arr = np.array(pts)
    ax.scatter(arr[:, 0], arr[:, 1], s=2.6, c=cols[i % 2], linewidths=0,
               zorder=3, clip_on=False)
ax.axhline(-np.log10(p_cut), color='red', lw=0.5, zorder=4)

ax.set_xlim(-88, 3342)
ax.set_ylim(0, 4)
for s in ['top', 'right']:
    ax.spines[s].set_visible(False)
ax.spines['left'].set_bounds(0, 4)
ax.spines['bottom'].set_bounds(tick_pos[0], tick_pos[-1])
ax.spines['left'].set_linewidth(0.8)
ax.spines['bottom'].set_linewidth(0.8)

ax.set_yticks([0, 1, 2, 3, 4])
ax.set_yticklabels(['0', '1', '2', '3', '4'])
ax.set_xticks(tick_pos)
# R leaves out labels that have no room (20 and 22)
ax.set_xticklabels([c if c not in ('20', '22') else '' for c in chr_names])
ax.tick_params(axis='y', length=7.2, width=0.6, pad=5.5, labelsize=9)
ax.tick_params(axis='x', length=6.2, width=0.6, pad=8, labelsize=9)

fig.text(137 / W, 1 - 1533 / H, r'$-\log_{10}(p)$', rotation=90,
         ha='center', va='center', fontsize=10)
fig.text(2068 / W, 1 - 2886 / H, 'Chromosome', ha='center', va='baseline', fontsize=10)

# ---- panel B : Venn diagram
vax = fig.add_axes([4150 / W, 1 - 2400 / H, 2594 / W, 1400 / H])
vax.set_xlim(0, 2594)
vax.set_ylim(1400, 0)
vax.axis('off')

ew, eh = 1210, 1164
blue_c = (1134, 626)
red_c = (1861, 626)
blue = Ellipse(blue_c, ew, eh, facecolor='#83b4e8', edgecolor='none')
red = Ellipse(red_c, ew, eh, facecolor='#ee876b', edgecolor='none')
vax.add_patch(blue)
vax.add_patch(red)
lens = Ellipse(blue_c, ew, eh, facecolor='#bc6660', edgecolor='none')
vax.add_patch(lens)
lens.set_clip_path(red)
for c in (blue_c, red_c):
    vax.add_patch(Ellipse(c, ew, eh, facecolor='none', edgecolor='black', lw=0.8))

bl, br = blue_c[0] - ew / 2, blue_c[0] + ew / 2
rl, rr = red_c[0] - ew / 2, red_c[0] + ew / 2
num_x = [(bl + rl) / 2, (rl + br) / 2, (br + rr) / 2]
for x, n in zip(num_x, venn_counts):
    vax.text(x, 658, str(n), ha='center', va='baseline', fontsize=20)
vax.text(343, 1095, venn_names[0], ha='center', va='baseline', fontsize=20,
         fontweight='bold', clip_on=False)
vax.text(2469, 1095, venn_names[1], ha='center', va='baseline', fontsize=20,
         fontweight='bold', clip_on=False)

# panel letters
fig.text(0, 1 - 121 / H, 'A', fontsize=40, ha='left', va='baseline')
fig.text(4036 / W, 1 - 122 / H, 'B', fontsize=40, ha='left', va='baseline')

fig.savefig('out.png', dpi=300)
